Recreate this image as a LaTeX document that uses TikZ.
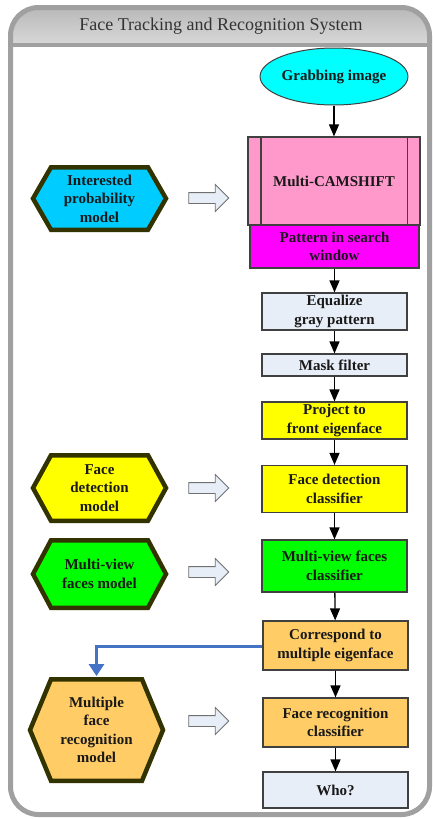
\documentclass[tikz,border=0pt]{standalone}
\usepackage{fontspec}
\setmainfont{Liberation Serif}
\usetikzlibrary{arrows.meta,shapes.geometric,shapes.arrows}

\definecolor{framegray}{HTML}{A0A0A0}
\definecolor{boxline}{HTML}{404040}
\definecolor{hexline}{HTML}{333300}
\definecolor{lightbox}{HTML}{E8EEF8}
\definecolor{cyanfill}{HTML}{00FFFF}
\definecolor{skyfill}{HTML}{00CCFF}
\definecolor{pinkfill}{HTML}{FF99CC}
\definecolor{magfill}{HTML}{FF00FF}
\definecolor{yelfill}{HTML}{FFFF00}
\definecolor{grnfill}{HTML}{00FF00}
\definecolor{orgfill}{HTML}{FFCC66}
\definecolor{linkblue}{HTML}{4472C4}
\definecolor{arrowgray}{HTML}{707070}
\definecolor{arrowfill}{HTML}{E8EEF8}

% hexagon outline: centre x, centre y, half width, half height, tip run, fill
\newcommand\hexshape[6]{%
  \draw[hexline, line width=4.5pt, fill=#6]
    ({#1-#3},#2) -- ({#1-#3+#5},{#2-#4}) -- ({#1+#3-#5},{#2-#4})
    -- ({#1+#3},#2) -- ({#1+#3-#5},{#2+#4}) -- ({#1-#3+#5},{#2+#4}) -- cycle;}

\begin{document}
\begin{tikzpicture}[x=1pt,y=-1pt,
  txt/.style={font=\fontsize{15}{18.5}\selectfont\bfseries, text=black!90, align=center},
  box/.style={txt, draw=boxline, line width=1.2pt, minimum width=145pt, inner sep=0pt},
  flow/.style={-{Triangle[width=10pt,length=12pt]}, line width=1.3pt, black},
  hollow/.style={single arrow, draw=arrowgray, fill=arrowfill, line width=0.8pt,
    minimum height=40pt, inner sep=5pt, single arrow head extend=8pt},
]
\useasboundingbox (0,0) rectangle (433,819);

% outer frame with shaded title band
\fill[white, rounded corners=28pt] (10.5,7.5) rectangle (429.5,814.5);
\begin{scope}
  \clip[rounded corners=28pt] (10.5,7.5) rectangle (429.5,814.5);
  \shade[top color=gray!55, middle color=gray!5, bottom color=gray!30] (10.5,7.5) rectangle (429.5,45);
\end{scope}
\draw[framegray, line width=4pt] (10.5,45) -- (429.5,45);
\draw[framegray, line width=5pt, rounded corners=28pt] (10.5,7.5) rectangle (429.5,814.5);
\node[font=\fontsize{18}{20}\selectfont, text=black!80] (title) at (221,26) {Face Tracking and Recognition System};

% main processing chain
\node[ellipse, txt, draw=boxline, line width=1pt, fill=cyanfill, minimum width=128pt, minimum height=57pt, inner sep=0pt] (grab) at (334,76.5) {Grabbing image};
\node[box, fill=pinkfill, minimum width=172pt, minimum height=88pt] (cam) at (334,181) {Multi-CAMSHIFT};
\draw[boxline, line width=1.2pt] ([xshift=13.5pt]cam.north west) -- ([xshift=13.5pt]cam.south west);
\draw[boxline, line width=1.2pt] ([xshift=-13.5pt]cam.north east) -- ([xshift=-13.5pt]cam.south east);
\node[box, fill=magfill, minimum width=169pt, minimum height=43pt] (pat) at (334.5,246.5) {Pattern in search\\window};
\node[box, fill=lightbox, minimum height=37pt] (equ) at (334.5,311.5) {Equalize\\gray pattern};
\node[box, fill=lightbox, minimum height=22pt] (mask) at (334.5,365) {Mask filter};
\node[box, fill=yelfill, minimum height=37pt] (proj) at (334.5,420.5) {Project to\\front eigenface};
\node[box, fill=yelfill, minimum height=47pt] (fdc) at (334.5,489) {Face detection\\classifier};
\node[box, fill=grnfill, minimum height=52pt] (mvc) at (334.5,566) {Multi-view faces\\classifier};
\node[box, fill=orgfill, minimum height=49pt] (corr) at (335.5,645.5) {Correspond to\\multiple eigenface};
\node[box, fill=orgfill, minimum height=49pt] (frc) at (335.5,722.5) {Face recognition\\classifier};
\node[box, fill=lightbox, minimum height=36pt] (who) at (335.5,790) {Who?};

\draw[flow] (grab) -- (cam);
\draw[flow] (pat) -- (equ);
\draw[flow] (equ) -- (mask);
\draw[flow] (mask) -- (proj);
\draw[flow] (proj) -- (fdc);
\draw[flow] (fdc) -- (mvc);
\draw[flow] (mvc) -- (corr);
\draw[flow] (corr) -- (frc);
\draw[flow] (frc) -- (who);

% model hexagons
\hexshape{99.5}{198.5}{66.5}{31.25}{18}{skyfill}
\node[txt] (ipm) at (99.5,198.5) {Interested\\probability\\model};
\hexshape{99.5}{488}{66.5}{32.75}{18}{yelfill}
\node[txt] (fdm) at (99.5,488) {Face\\detection\\model};
\hexshape{99.5}{574}{66.5}{33.75}{18}{grnfill}
\node[txt] (mvm) at (99.5,574) {Multi-view\\faces model};
\hexshape{96.5}{730}{66.5}{50.75}{21}{orgfill}
\node[txt] (mfr) at (96.5,730) {Multiple\\face\\recognition\\model};
\coordinate (mfrtop) at (96.5,676);

% hollow arrows from models to classifiers
\node[hollow] (a1) at (206,198) {};
\node[hollow] (a2) at (206,488) {};
\node[hollow] (a3) at (206,572) {};
\node[hollow] (a4) at (206,721) {};

% feedback link to the recognition model
\draw[linkblue, line width=3pt, -{Triangle[width=15pt,length=12pt]}]
  (corr.west |- 0,646) -| (mfrtop);
\end{tikzpicture}
\end{document}
